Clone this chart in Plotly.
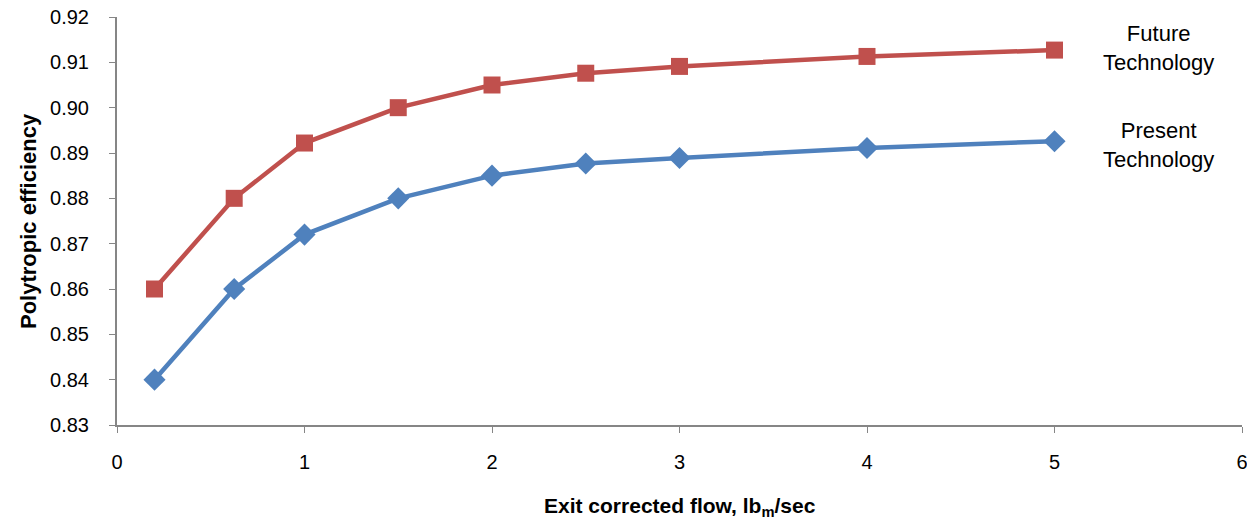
import plotly.graph_objects as go

flow = [0.2, 0.625, 1.0, 1.5, 2.0, 2.5, 3.0, 4.0, 5.0]
future_eff = [0.860, 0.880, 0.8922, 0.900, 0.905, 0.9076, 0.9091, 0.9113, 0.9127]
present_eff = [0.840, 0.860, 0.872, 0.880, 0.885, 0.8877, 0.8889, 0.8911, 0.8926]
x_ticks = [0, 1, 2, 3, 4, 5, 6]
y_ticks = [0.83, 0.84, 0.85, 0.86, 0.87, 0.88, 0.89, 0.90, 0.91, 0.92]

RED = "#C0504D"
BLUE = "#4F81BD"
AXIS = "#868686"

# page body has an 8px default margin; size figure to fit the 1255x525 window
OFF = 8
W, H = 1255 - 2 * OFF, 525 - 2 * OFF
l, r, t, b = 117 - OFF, 13 - OFF, 17 - OFF, 100 - OFF
pw, ph = W - l - r, H - t - b

def to_paper(sx, sy):
    fx, fy = sx - OFF, sy - OFF
    return (fx - l) / pw, (H - b - fy) / ph

fig = go.Figure()
fig.add_trace(go.Scatter(x=flow, y=present_eff, mode="lines+markers",
                         line=dict(color=BLUE, width=4.5),
                         marker=dict(symbol="diamond", size=17, color=BLUE),
                         name="Present Technology", cliponaxis=False))
fig.add_trace(go.Scatter(x=flow, y=future_eff, mode="lines+markers",
                         line=dict(color=RED, width=4.5),
                         marker=dict(symbol="square", size=17, color=RED),
                         name="Future Technology", cliponaxis=False))

sans = "Liberation Sans, Arial, sans-serif"

annots = []
for (sx, sy, txt, size, ang) in [
    (1158, 48, "Future<br>Technology", 22, 0),
    (1158, 145, "Present<br>Technology", 22, 0),
    (680, 507, "<b>Exit corrected flow, lb<sub>m</sub>/sec</b>", 21, 0),
    (28, 221, "<b>Polytropic efficiency</b>", 22, -90),
]:
    px, py = to_paper(sx, sy)
    annots.append(dict(x=px, y=py, xref="paper", yref="paper", text=txt,
                       showarrow=False, textangle=ang, align="center",
                       xanchor="center", yanchor="middle",
                       font=dict(family=sans, size=size, color="#000")))

fig.update_layout(
    width=W, height=H,
    margin=dict(l=l, r=r, t=t, b=b, autoexpand=False),
    paper_bgcolor="white", plot_bgcolor="white",
    showlegend=False,
    xaxis=dict(range=[0, 6], tickvals=x_ticks, showgrid=False, zeroline=False,
               showline=True, linecolor=AXIS, linewidth=2,
               ticks="outside", ticklen=6, tickcolor=AXIS, tickwidth=1,
               ticklabelstandoff=12, ticklabeloverflow="allow", automargin=False,
               tickfont=dict(family=sans, size=20, color="#000000")),
    yaxis=dict(range=[0.83, 0.92], tickvals=y_ticks, tickformat=".2f",
               showgrid=False, zeroline=False,
               showline=True, linecolor=AXIS, linewidth=2,
               ticks="outside", ticklen=6, tickcolor=AXIS, tickwidth=1,
               ticklabelstandoff=16, ticklabeloverflow="allow", automargin=False,
               tickfont=dict(family=sans, size=20, color="#000000")),
    annotations=annots,
)

fig.write_html("out.html")
